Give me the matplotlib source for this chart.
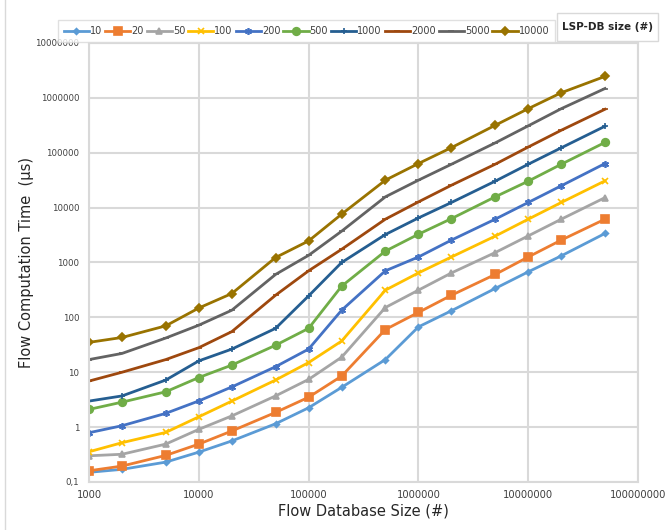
import matplotlib
matplotlib.use("Agg")
import matplotlib.pyplot as plt
from matplotlib.ticker import FixedLocator, NullLocator
from matplotlib.patches import Rectangle
from matplotlib.lines import Line2D

# flow database sizes (x axis)
flowSizes = [1000, 2000, 5000, 10000, 20000, 50000, 100000, 200000, 500000,
             1000000, 2000000, 5000000, 10000000, 20000000, 50000000]

# computation time (us) per LSP-DB size
t10 = [0.15, 0.17, 0.23, 0.35, 0.56, 1.15, 2.25, 5.3, 17, 67, 132, 336, 675, 1320, 3380]
t20 = [0.16, 0.195, 0.305, 0.49, 0.85, 1.85, 3.5, 8.5, 60, 123, 253, 605, 1260, 2560, 6150]
t50 = [0.30, 0.32, 0.49, 0.91, 1.6, 3.7, 7.4, 18.8, 151, 313, 645, 1515, 3050, 6150, 15200]
t100 = [0.355, 0.52, 0.8, 1.54, 2.98, 7.2, 15, 37, 313, 645, 1260, 3020, 6150, 12400, 30700]
t200 = [0.79, 1.06, 1.78, 3.0, 5.4, 12.6, 26.4, 135, 705, 1260, 2560, 6150, 12400, 25000, 63500]
t500 = [2.1, 2.85, 4.4, 8.0, 13.5, 31, 63, 370, 1610, 3270, 6300, 15700, 30300, 61700, 154000]
t1000 = [2.98, 3.7, 7.2, 16.1, 26.4, 63, 246, 1000, 3230, 6480, 12400, 30300, 61700, 123000, 304000]
t2000 = [6.9, 10, 17, 28, 55, 253, 705, 1740, 6150, 12700, 25600, 61700, 127000, 257000, 620000]
t5000 = [17, 22, 42, 72, 135, 605, 1350, 3720, 15700, 31600, 61700, 151000, 309000, 635000, 1480000]
t10000 = [35, 43, 70, 148, 272, 1230, 2470, 7600, 31600, 63500, 124000, 316000, 635000, 1240000, 2460000]

seriesNames = ["10", "20", "50", "100", "200", "500", "1000", "2000", "5000", "10000"]
seriesData = [t10, t20, t50, t100, t200, t500, t1000, t2000, t5000, t10000]
colors = ["#5B9BD5", "#ED7D31", "#A5A5A5", "#FFC000", "#4472C4",
          "#70AD47", "#255E91", "#9E480E", "#636363", "#997300"]
markers = ["D", "s", "^", "x", (6, 2, 0), "o", "+", "_", "_", "D"]
sizes = [3, 5.5, 5, 5, 5, 5.5, 5, 5, 5, 4]

fig = plt.figure(figsize=(6.69, 5.30), dpi=100)
ax = fig.add_axes([0.133, 0.0906, 0.8207, 0.8283])

for name, data, c, m, s in zip(seriesNames, seriesData, colors, markers, sizes):
    ax.plot(flowSizes, data, color=c, marker=m, markersize=s, linewidth=2,
            markeredgewidth=1.2, label=name)

ax.set_xscale("log")
ax.set_yscale("log")
ax.set_xlim(1000, 1e8)
ax.set_ylim(0.1, 1e7)

xt = [1e3, 1e4, 1e5, 1e6, 1e7, 1e8]
yt = [0.1, 1, 10, 100, 1e3, 1e4, 1e5, 1e6, 1e7]
ax.xaxis.set_major_locator(FixedLocator(xt))
ax.yaxis.set_major_locator(FixedLocator(yt))
ax.xaxis.set_minor_locator(NullLocator())
ax.yaxis.set_minor_locator(NullLocator())
ax.set_xticklabels([str(int(v)) for v in xt])
ax.set_yticklabels(["0,1"] + [str(int(v)) for v in yt[1:]])
ax.tick_params(axis="both", length=0, colors="#404040")
ax.tick_params(axis="x", labelsize=7.2, pad=6)
ax.tick_params(axis="y", labelsize=6.2, pad=7)

ax.grid(True, color="#D9D9D9", linewidth=1.5)
ax.set_axisbelow(True)
for sp in ax.spines.values():
    sp.set_color("#D9D9D9")
    sp.set_linewidth(1.5)

ax.set_xlabel("Flow Database Size (#)", fontsize=10.5, color="#262626", labelpad=2)
ax.set_ylabel("Flow Computation Time  (µs)", fontsize=10.5, color="#262626", labelpad=1)

# series legend along the top
leg = fig.legend(loc="lower right", bbox_to_anchor=(555 / 669, 1 - 42 / 530), ncol=10,
                 fontsize=7, frameon=True, handlelength=2.6, columnspacing=0.3,
                 handletextpad=0.1, borderpad=0.6, borderaxespad=0, fancybox=False)
leg.get_frame().set_edgecolor("#D9D9D9")
for t in leg.get_texts():
    t.set_color("#404040")

# legend title box
fig.patches.append(Rectangle((557 / 669, 1 - 41 / 530), 101 / 669, 28 / 530,
                             transform=fig.transFigure, facecolor="white",
                             edgecolor="#D9D9D9", linewidth=1))
fig.text(607.5 / 669, 1 - 27 / 530, "LSP-DB size (#)", fontsize=7.5, fontweight="bold",
         ha="center", va="center", color="#262626")

# faint chart border on the left
fig.lines.append(Line2D([4.5 / 669, 4.5 / 669], [0, 1], transform=fig.transFigure,
                        color="#D9D9D9", linewidth=1))

fig.savefig("out.png", dpi=100)
